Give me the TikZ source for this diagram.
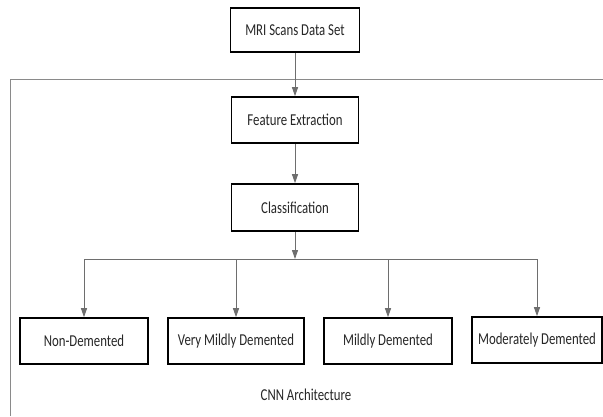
\documentclass[tikz,border=0pt]{standalone}
\usepackage{graphicx}
\usepackage{fontspec}
\setmainfont{Carlito}
\usetikzlibrary{arrows.meta}
\definecolor{lineg}{HTML}{6E6E6E}
\definecolor{frameg}{HTML}{8A8A8A}
\definecolor{txt}{HTML}{262626}
\newcommand{\tallt}[1]{\scalebox{1}[1.3]{#1}}
\tikzset{
  box/.style={draw=black, line width=1.6pt, fill=white, minimum height=46pt, inner sep=0pt,
    font=\fontsize{12.8}{14}\selectfont, text=txt},
  conn/.style={draw=lineg, line width=0.9pt},
  arr/.style={conn, -{Triangle[length=9pt,width=6pt]}},
}
\begin{document}
\begin{tikzpicture}[x=1pt,y=-1pt]
\useasboundingbox (0,0) rectangle (603,416);
\fill[white] (0,0) rectangle (603,416);
% outer frame (extends past the page on the right and bottom)
\draw[frameg, line width=1pt] (10,416) -- (10,79) -- (603,79);
\node[box, minimum width=129pt, minimum height=44pt] (mri) at (295,30) {\tallt{MRI Scans Data Set}};
\node[box, minimum width=127pt] (fe) at (295,120) {\tallt{Feature Extraction}};
\node[box, minimum width=127pt, minimum height=47pt] (cls) at (295,207.5) {\tallt{Classification}};
\node[box, minimum width=128pt] (nd) at (84,341) {\tallt{Non-Demented}};
\node[box, minimum width=136pt] (vmd) at (236,341) {\tallt{Very Mildly Demented}};
\node[box, minimum width=128pt] (mid) at (388,341) {\tallt{Mildly Demented}};
\node[box, minimum width=130pt] (mod) at (537,340) {\tallt{Moderately Demented}};
\node[font=\fontsize{12.8}{14}\selectfont, text=txt, inner sep=0pt] (cap) at (306,395) {\tallt{CNN Architecture}};
\coordinate (hl) at (295,259);
\draw[arr] (mri) -- (fe);
\draw[arr] (fe) -- (cls);
\draw[arr] (cls) -- (hl);
\draw[conn] (nd.north |- hl) -- (mod.north |- hl);
\draw[arr] (nd.north |- hl) -- (nd.north);
\draw[arr] (vmd.north |- hl) -- (vmd.north);
\draw[arr] (mid.north |- hl) -- (mid.north);
\draw[arr] (mod.north |- hl) -- (mod.north);
\end{tikzpicture}
\end{document}
